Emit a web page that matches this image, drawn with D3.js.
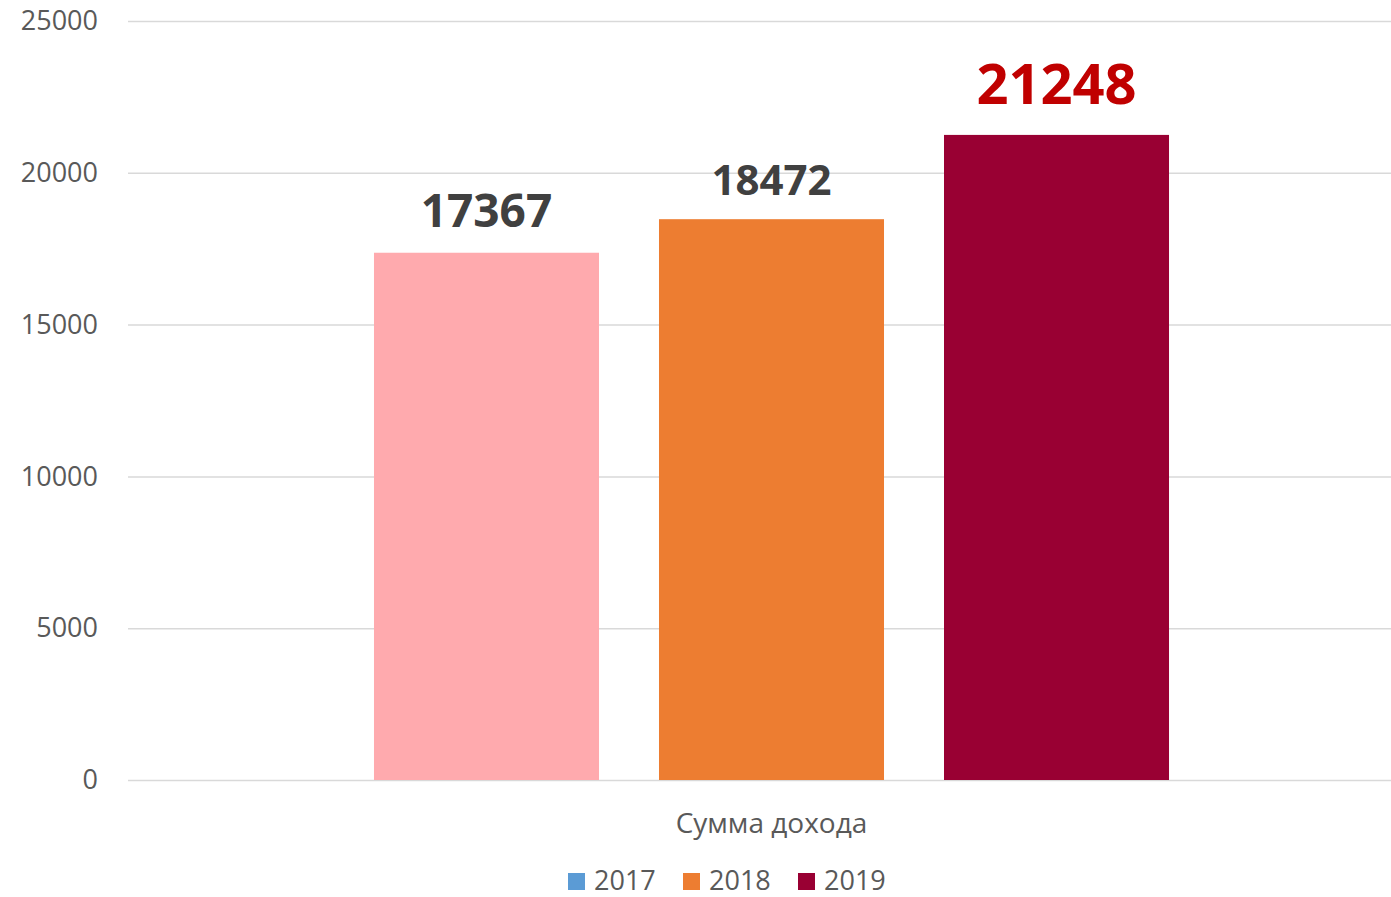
<!DOCTYPE html>
<html>
<head>
<meta charset="utf-8">
<script src="https://cdn.jsdelivr.net/npm/d3@7"></script>
<style>
  body { margin: 0; background: #fff; }
  svg { display: block; font-family: "Open Sans", sans-serif; }
</style>
</head>
<body>
<svg id="chart"></svg>
<script>
// data
const categories = ["Сумма дохода"];
const years      = ["2017", "2018", "2019"];
const values     = [17367, 18472, 21248];
const yTicks     = [0, 5000, 10000, 15000, 20000, 25000];

const barColors    = ["#ffaaae", "#ed7d31", "#990033"];
const legendColors = ["#5b9bd5", "#ed7d31", "#990033"];

const width = 1391, height = 897;
const svg = d3.select("#chart").attr("width", width).attr("height", height);

const y = d3.scaleLinear().domain([0, 25000]).range([780, 21]);

const x0 = d3.scaleBand().domain(categories).range([128, 1415])
  .paddingInner(0).paddingOuter(0.3094);
const x1 = d3.scaleBand().domain(years).range([0, x0.bandwidth()])
  .paddingInner(0.2105).paddingOuter(0);

// gridlines + tick labels
const yAxis = svg.append("g")
  .attr("transform", "translate(128,0)")
  .call(d3.axisLeft(y).tickValues(yTicks).tickSize(-(width - 128)).tickPadding(30).tickFormat(d3.format("d")));
yAxis.attr("font-family", "Open Sans, sans-serif");
yAxis.select(".domain").remove();
yAxis.selectAll(".tick line").attr("stroke", "#d9d9d9").attr("stroke-width", 1.5);
yAxis.selectAll(".tick text")
  .attr("fill", "#595959").attr("font-size", 27).attr("x", -30);

// bars
const g = svg.append("g").attr("transform", `translate(${x0(categories[0])},0)`);
g.selectAll("rect")
  .data(values)
  .join("rect")
    .attr("x", (d, i) => x1(years[i]))
    .attr("y", d => y(d))
    .attr("width", x1.bandwidth())
    .attr("height", d => y(0) - y(d))
    .attr("fill", (d, i) => barColors[i]);

// value labels (last one highlighted)
const labelStyle = [
  { size: 46, fill: "#404040", off: 26 },
  { size: 42, fill: "#404040", off: 24 },
  { size: 56, fill: "#c00000", off: 31 }
];
g.selectAll("text.val")
  .data(values)
  .join("text")
    .attr("class", "val")
    .attr("x", (d, i) => x1(years[i]) + x1.bandwidth() / 2)
    .attr("y", (d, i) => y(d) - labelStyle[i].off)
    .attr("text-anchor", "middle")
    .attr("font-weight", "bold")
    .attr("font-size", (d, i) => labelStyle[i].size)
    .attr("fill", (d, i) => labelStyle[i].fill)
    .text(d => d);

// category label
svg.append("text")
  .attr("x", x0(categories[0]) + x0.bandwidth() / 2)
  .attr("y", 833)
  .attr("text-anchor", "middle")
  .attr("font-size", 28)
  .attr("fill", "#595959")
  .text(categories[0]);

// legend
const legend = svg.append("g").attr("transform", "translate(568,873)");
let lx = 0;
years.forEach((yr, i) => {
  const item = legend.append("g").attr("transform", `translate(${lx},0)`);
  item.append("rect").attr("width", 17).attr("height", 17).attr("fill", legendColors[i]);
  item.append("text").attr("x", 26).attr("y", 17)
    .attr("font-size", 27).attr("fill", "#595959").text(yr);
  lx += 115;
});
</script>
</body>
</html>
